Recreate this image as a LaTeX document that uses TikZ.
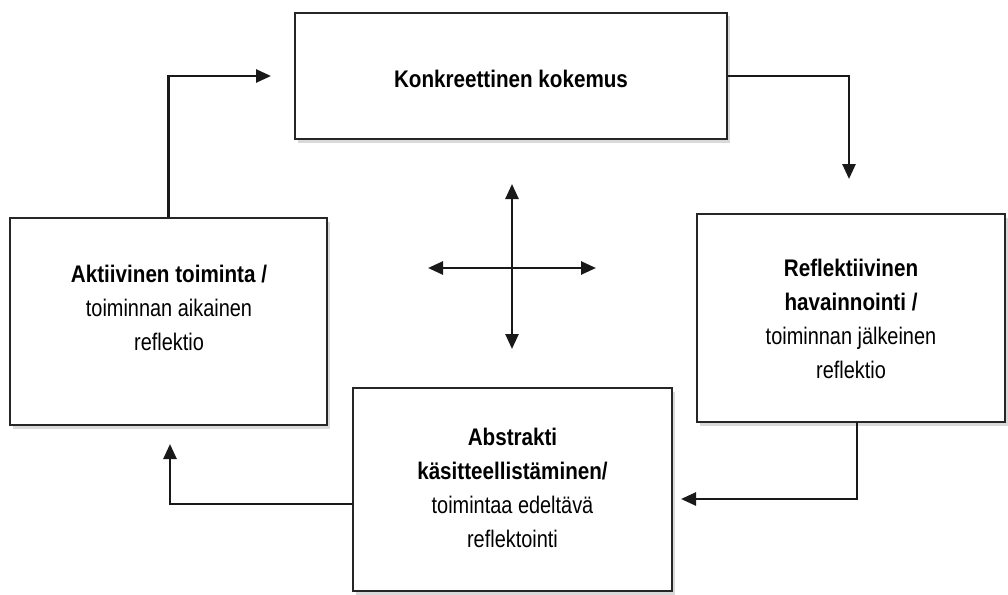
\documentclass[tikz,border=0pt]{standalone}
\usepackage{fontspec}
\setmainfont[FakeStretch=0.83,BoldFeatures={FakeStretch=0.86}]{Liberation Sans}
\usetikzlibrary{arrows.meta,shadows}
\begin{document}
\begin{tikzpicture}[x=1pt,y=-1pt,
  boxst/.style={draw=black!85,line width=2.8pt,fill=white,
    drop shadow={shadow xshift=3pt,shadow yshift=-3.5pt,opacity=0.3}},
  lbl/.style={align=center,font=\fontsize{24}{34}\selectfont,inner sep=0pt},
  arr/.style={draw=black!90,line width=2.6pt,-{Triangle[length=15pt,width=13pt]}},
  darr/.style={draw=black!90,line width=2.6pt,{Triangle[length=15pt,width=13pt]}-{Triangle[length=15pt,width=13pt]}}]
\useasboundingbox (0,0) rectangle (1008,594);
% boxes
\node[boxst,minimum width=432pt,minimum height=126pt] (top) at (511,76) {};
\node[boxst,minimum width=317pt,minimum height=207pt] (left) at (168.5,321.5) {};
\node[boxst,minimum width=308pt,minimum height=208pt] (right) at (851,318) {};
\node[boxst,minimum width=319pt,minimum height=203pt] (bottom) at (512.5,489.5) {};
% texts
\node[lbl] (ttop) at (511,79) {\textbf{Konkreettinen kokemus}};
\node[lbl] (tleft) at (169,308) {\textbf{Aktiivinen toiminta /}\\toiminnan aikainen\\reflektio};
\node[lbl] (tright) at (851,319) {\textbf{Reflektiivinen}\\\textbf{havainnointi /}\\toiminnan jälkeinen\\reflektio};
\node[lbl] (tbottom) at (512.5,488) {\textbf{Abstrakti}\\\textbf{käsitteellistäminen/}\\toimintaa edeltävä\\reflektointi};
% connector ends
\coordinate (e1) at (849,179);
\coordinate (s2) at (857,422);
\coordinate (e2) at (681,499);
\coordinate (s3) at (353,504);
\coordinate (e3) at (170,444);
\coordinate (e4) at (271,76);
% cycle connectors
\draw[arr] (top.east) -| (e1);
\draw[arr] (s2) |- (e2);
\draw[arr] (s3) -| (e3);
\draw[arr] (left.north) |- (e4);
% cross
\coordinate (cu) at (512,184);
\coordinate (cd) at (512,349);
\coordinate (cl) at (428,268);
\coordinate (cr) at (596,268);
\draw[darr] (cu) -- (cd);
\draw[darr] (cl) -- (cr);
\end{tikzpicture}
\end{document}
